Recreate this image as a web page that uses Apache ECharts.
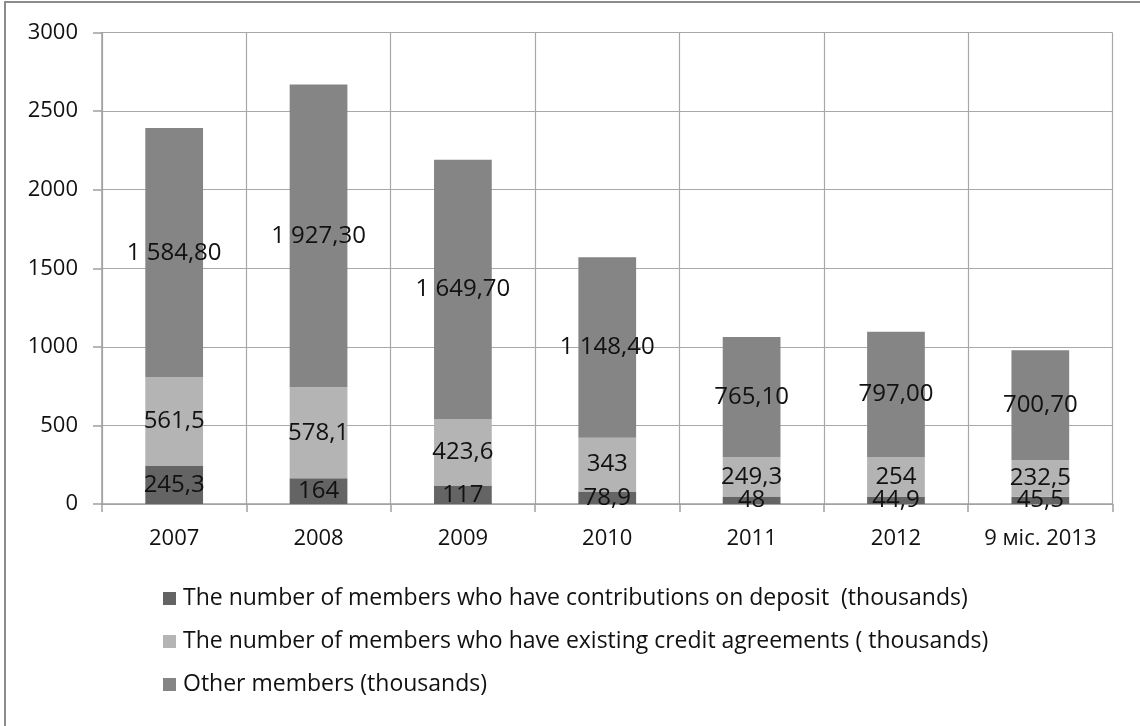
<!DOCTYPE html>
<html>
<head>
<meta charset="utf-8">
<script src="https://cdn.jsdelivr.net/npm/echarts@6/dist/echarts.min.js"></script>
<style>
  html, body { margin: 0; padding: 0; background: #fff; }
  #chart { width: 1140px; height: 726px; }
</style>
</head>
<body>
<div id="chart"></div>
<script>
// Credit union membership structure, thousands of members
const years = ['2007', '2008', '2009', '2010', '2011', '2012', '9 міс. 2013'];
const depositMembers = [245.3, 164, 117, 78.9, 48, 44.9, 45.5];
const creditMembers = [561.5, 578.1, 423.6, 343, 249.3, 254, 232.5];
const otherMembers = [1584.8, 1927.3, 1649.7, 1148.4, 765.1, 797.0, 700.7];
const yTicks = [0, 500, 1000, 1500, 2000, 2500, 3000];

const seriesNames = [
  'The number of members who have contributions on deposit  (thousands)',
  'The number of members who have existing credit agreements ( thousands)',
  'Other members (thousands)'
];
const colors = ['#646464', '#b4b4b4', '#858585'];
const FONT = '"Open Sans", "DejaVu Sans", sans-serif';

// "245,3" style: decimal comma, no trailing zeros
function fmtShort(v) {
  return String(v).replace('.', ',');
}
// "1 584,80" style: two decimals, space as thousands separator
function fmtLong(v) {
  const parts = v.toFixed(2).split('.');
  const intPart = parts[0].replace(/\B(?=(\d{3})+(?!\d))/g, ' ');
  return intPart + ',' + parts[1];
}

function barSeries(name, data, color, fmt) {
  return {
    name: name,
    type: 'bar',
    stack: 'members',
    barWidth: '40%',
    data: data,
    itemStyle: { color: color },
    label: {
      show: true,
      position: 'inside',
      color: '#111',
      fontFamily: FONT,
      fontSize: 24,
      formatter: p => fmt(p.value)
    },
    emphasis: { disabled: true }
  };
}

const chart = echarts.init(document.getElementById('chart'), null, { renderer: 'canvas' });
chart.setOption({
  animation: false,
  backgroundColor: '#fff',
  grid: { left: 102, right: 27.5, top: 32.5, bottom: 222, containLabel: false },
  graphic: [{
    type: 'rect',
    shape: { x: 5, y: 2, width: 1160, height: 760 },
    style: { fill: 'none', stroke: '#8c8c8c', lineWidth: 2 },
    silent: true
  }],
  xAxis: {
    type: 'category',
    data: years,
    boundaryGap: true,
    axisLine: { show: true, lineStyle: { color: '#a0a0a0', width: 1.5 } },
    axisTick: { show: true, length: 8, interval: 0, lineStyle: { color: '#a0a0a0', width: 1.5 } },
    splitLine: { show: true, interval: 0, lineStyle: { color: '#a8a8a8', width: 1.2 } },
    axisLabel: { color: '#111', fontFamily: FONT, fontSize: 22, margin: 24, interval: 0 }
  },
  yAxis: {
    type: 'value',
    min: yTicks[0],
    max: yTicks[yTicks.length - 1],
    interval: 500,
    axisLine: { show: true, lineStyle: { color: '#a0a0a0', width: 1.5 } },
    axisTick: { show: true, length: 9, lineStyle: { color: '#a0a0a0', width: 1.5 } },
    splitLine: { show: true, lineStyle: { color: '#a8a8a8', width: 1.2 } },
    axisLabel: { color: '#111', fontFamily: FONT, fontSize: 22, margin: 24, formatter: v => String(v) }
  },
  legend: {
    orient: 'vertical',
    left: 158,
    top: 581,
    itemGap: 18,
    itemWidth: 13,
    itemHeight: 13,
    icon: 'rect',
    textStyle: { color: '#111', fontFamily: FONT, fontSize: 23, lineHeight: 25, padding: [0, 0, 0, 2] },
    data: seriesNames
  },
  series: [
    barSeries(seriesNames[0], depositMembers, colors[0], fmtShort),
    barSeries(seriesNames[1], creditMembers, colors[1], fmtShort),
    barSeries(seriesNames[2], otherMembers, colors[2], fmtLong)
  ]
});
</script>
</body>
</html>
